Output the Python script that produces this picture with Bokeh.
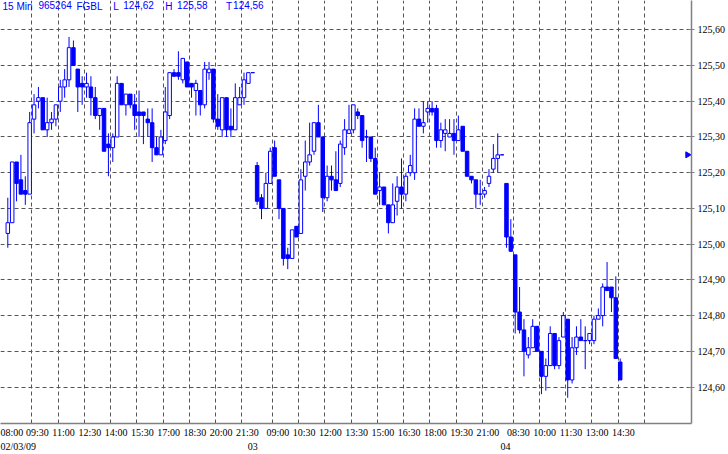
import math
from bokeh.plotting import figure
from bokeh.models import ColumnDataSource, FixedTicker, LinearAxis, Label, Range1d
from bokeh.embed import file_html
from bokeh.resources import INLINE

# ---------------- data (15-min FGBL bars, 02/03/09 - 04/03/09) ----------------
opens = [
    125.03, 125.06, 125.23, 125.18, 125.15, 125.14, 125.35, 125.40, 125.41, 125.32,
    125.34, 125.35, 125.40, 125.44, 125.46, 125.55, 125.49, 125.45, 125.44, 125.44,
    125.41, 125.36, 125.38, 125.28, 125.27, 125.30, 125.45, 125.39, 125.42, 125.39,
    125.37, 125.37, 125.35, 125.34, 125.27, 125.25, 125.29, 125.36, 125.48, 125.48,
    125.46, 125.51, 125.45, 125.43, 125.43, 125.39, 125.48, 125.49, 125.35, 125.32,
    125.41, 125.33, 125.32, 125.39, 125.41, 125.45, 125.48,
    125.22, 125.13, 125.10, 125.17, 125.27, 125.18, 125.10, 124.97, 124.96, 125.05,
    125.03, 125.19, 125.23, 125.26, 125.34, 125.30, 125.13, 125.19, 125.18, 125.17,
    125.27, 125.31, 125.32, 125.37, 125.36, 125.30, 125.30, 125.24, 125.15, 125.16,
    125.11, 125.06, 125.12, 125.16, 125.14, 125.20, 125.20, 125.35, 125.33, 125.37,
    125.38, 125.38, 125.29, 125.31, 125.30, 125.31, 125.29, 125.33, 125.26, 125.19,
    125.18, 125.14, 125.14, 125.17, 125.21, 125.24, 125.25,
    125.17, 125.02, 124.97, 124.81, 124.76, 124.69, 124.71, 124.77, 124.70, 124.63,
    124.66, 124.75, 124.66, 124.74, 124.79, 124.62, 124.71, 124.74, 124.73, 124.73,
    124.73, 124.79, 124.80, 124.88, 124.88, 124.85, 124.67,
]
highs = [
    125.13, 125.23, 125.23, 125.25, 125.19, 125.37, 125.42, 125.44, 125.41, 125.41,
    125.37, 125.39, 125.46, 125.49, 125.58, 125.57, 125.49, 125.47, 125.48, 125.47,
    125.44, 125.38, 125.38, 125.31, 125.31, 125.47, 125.45, 125.42, 125.42, 125.42,
    125.43, 125.37, 125.38, 125.38, 125.30, 125.32, 125.44, 125.48, 125.49, 125.54,
    125.52, 125.51, 125.45, 125.46, 125.43, 125.51, 125.51, 125.49, 125.42, 125.41,
    125.41, 125.38, 125.45, 125.44, 125.48, 125.48, 125.48,
    125.23, 125.14, 125.20, 125.27, 125.29, 125.18, 125.10, 124.99, 125.04, 125.05,
    125.21, 125.29, 125.34, 125.34, 125.39, 125.30, 125.22, 125.22, 125.26, 125.29,
    125.35, 125.39, 125.39, 125.38, 125.36, 125.32, 125.30, 125.27, 125.20, 125.16,
    125.11, 125.17, 125.19, 125.24, 125.20, 125.25, 125.38, 125.38, 125.40, 125.40,
    125.40, 125.39, 125.34, 125.35, 125.35, 125.35, 125.36, 125.33, 125.26, 125.19,
    125.18, 125.18, 125.16, 125.21, 125.28, 125.31, 125.25,
    125.17, 125.07, 124.97, 124.88, 124.79, 124.74, 124.79, 124.77, 124.70, 124.68,
    124.77, 124.75, 124.74, 124.81, 124.79, 124.74, 124.77, 124.79, 124.77, 124.75,
    124.80, 124.82, 124.89, 124.95, 124.88, 124.91, 124.68,
]
lows = [
    124.99, 125.06, 125.12, 125.14, 125.11, 125.14, 125.31, 125.38, 125.32, 125.30,
    125.32, 125.33, 125.37, 125.41, 125.44, 125.50, 125.37, 125.39, 125.41, 125.36,
    125.35, 125.32, 125.26, 125.19, 125.23, 125.30, 125.39, 125.36, 125.38, 125.32,
    125.30, 125.28, 125.30, 125.23, 125.25, 125.25, 125.28, 125.35, 125.47, 125.46,
    125.45, 125.44, 125.41, 125.36, 125.36, 125.38, 125.46, 125.34, 125.32, 125.30,
    125.30, 125.30, 125.32, 125.39, 125.39, 125.45, 125.48,
    125.11, 125.07, 125.10, 125.17, 125.19, 125.07, 124.94, 124.93, 124.96, 125.02,
    125.03, 125.15, 125.22, 125.25, 125.30, 125.09, 125.12, 125.15, 125.15, 125.16,
    125.25, 125.31, 125.31, 125.35, 125.27, 125.23, 125.23, 125.14, 125.11, 125.11,
    125.03, 125.06, 125.08, 125.10, 125.12, 125.19, 125.18, 125.33, 125.31, 125.34,
    125.36, 125.27, 125.27, 125.26, 125.30, 125.25, 125.29, 125.26, 125.19, 125.17,
    125.10, 125.11, 125.13, 125.16, 125.20, 125.20, 125.25,
    124.99, 124.98, 124.75, 124.75, 124.63, 124.68, 124.71, 124.70, 124.58, 124.59,
    124.66, 124.65, 124.65, 124.74, 124.57, 124.61, 124.69, 124.73, 124.65, 124.72,
    124.72, 124.79, 124.77, 124.87, 124.81, 124.68, 124.62,
]
closes = [
    125.06, 125.23, 125.17, 125.14, 125.14, 125.34, 125.39, 125.41, 125.32, 125.34,
    125.35, 125.39, 125.44, 125.46, 125.55, 125.50, 125.44, 125.44, 125.45, 125.41,
    125.36, 125.38, 125.26, 125.27, 125.30, 125.45, 125.39, 125.42, 125.39, 125.36,
    125.36, 125.36, 125.34, 125.27, 125.25, 125.30, 125.37, 125.48, 125.47, 125.47,
    125.52, 125.44, 125.44, 125.45, 125.39, 125.49, 125.49, 125.35, 125.33, 125.41,
    125.32, 125.32, 125.41, 125.41, 125.46, 125.48, 125.48,
    125.12, 125.10, 125.17, 125.26, 125.19, 125.10, 124.96, 124.96, 125.04, 125.02,
    125.18, 125.23, 125.25, 125.34, 125.30, 125.13, 125.19, 125.18, 125.15, 125.28,
    125.32, 125.32, 125.39, 125.36, 125.29, 125.30, 125.24, 125.14, 125.16, 125.11,
    125.06, 125.11, 125.16, 125.14, 125.19, 125.22, 125.35, 125.33, 125.34, 125.38,
    125.37, 125.29, 125.32, 125.32, 125.31, 125.29, 125.32, 125.26, 125.19, 125.18,
    125.14, 125.14, 125.15, 125.19, 125.24, 125.25, 125.25,
    125.02, 124.98, 124.81, 124.76, 124.70, 124.71, 124.77, 124.70, 124.63, 124.66,
    124.75, 124.66, 124.73, 124.80, 124.62, 124.71, 124.74, 124.73, 124.73, 124.75,
    124.79, 124.80, 124.88, 124.87, 124.85, 124.68, 124.62,
]

time_tick_bars = [0, 6, 12, 18, 24, 30, 36, 42, 48, 54,
                  61, 67, 73, 79, 85, 91, 97, 103, 109,
                  116, 122, 128, 134, 140]
time_tick_labels = ["08:00", "09:30", "11:00", "12:30", "14:00", "15:30", "17:00", "18:30", "20:00", "21:30",
                    "09:00", "10:30", "12:00", "13:30", "15:00", "16:30", "18:00", "19:30", "21:00",
                    "08:30", "10:00", "11:30", "13:00", "14:30"]
grid_bars = [6, 12, 18, 24, 30, 36, 42, 48, 54, 61, 67, 73, 79, 85, 91, 97, 103, 109,
             116, 122, 128, 134, 140, 146]
day_tick_bars = [2.1, 56.0, 113.8]
day_tick_labels = ["02/03/09", "03", "04"]
price_ticks = [124.6, 124.7, 124.8, 124.9, 125.0, 125.1, 125.2, 125.3, 125.4, 125.5, 125.6]
price_tick_labels = ["124,60", "124,70", "124,80", "124,90", "125,00", "125,10",
                     "125,20", "125,30", "125,40", "125,50", "125,60"]
prev_close = [125.25]
title_parts = ["15 Min", "965264", "FGBL", "L", "124,62", "H", "125,58", "T", "124,56"]

# ---------------- build ----------------
BLUE = "#0000FF"
n = len(opens)
xs = list(range(n))
tops = [max(o, c) for o, c in zip(opens, closes)]
bottoms = [min(o, c) for o, c in zip(opens, closes)]
fills = ["white" if c >= o else BLUE for o, c in zip(opens, closes)]
src = ColumnDataSource(dict(x=xs, top=tops, bottom=bottoms, high=highs, low=lows, fill=fills))

p = figure(width=728, height=454, output_backend="svg", toolbar_location=None,
           x_range=Range1d(-1.67, 156.3), y_range=Range1d(124.498, 125.682),
           y_axis_location="right", min_border_left=0, min_border_top=0,
           min_border_bottom=0, min_border_right=0)
p.outline_line_color = None
p.background_fill_color = "white"
p.border_fill_color = "white"

# grid
p.xgrid.ticker = FixedTicker(ticks=[g - 0.5 for g in grid_bars])
p.ygrid.ticker = FixedTicker(ticks=price_ticks)
for g in (p.xgrid[0], p.ygrid[0]):
    g.grid_line_color = "#555555"
    g.grid_line_dash = "4 3"
    g.grid_line_width = 1

# candles
p.segment(x0="x", y0="low", x1="x", y1="high", source=src, line_color=BLUE, line_width=1)
p.vbar(x="x", top="top", bottom="bottom", width=0.8, source=src,
       fill_color="fill", line_color=BLUE, line_width=1)

# previous close marker on right edge
p.scatter(x=[155.4], y=prev_close, marker="triangle", angle=-math.pi / 2,
          size=6, fill_color=BLUE, line_color=BLUE)

FONT = "Liberation Serif"
FS = "10px"

# bottom time axis
tpos = [0.6] + [b + 0.75 for b in time_tick_bars[1:]]
xa = p.xaxis[0]
xa.ticker = FixedTicker(ticks=tpos)
xa.major_label_overrides = {t: l for t, l in zip(tpos, time_tick_labels)}
xa.axis_line_color = "#808080"
xa.axis_line_width = 1.5
xa.major_tick_line_color = None
xa.minor_tick_line_color = None
xa.major_tick_out = 0
xa.major_tick_in = 0
xa.minor_tick_out = 0
xa.minor_tick_in = 0
xa.major_label_standoff = 3
xa.major_label_text_font = FONT
xa.major_label_text_font_size = FS
xa.major_label_text_color = "black"

# day axis
da = LinearAxis(ticker=FixedTicker(ticks=day_tick_bars),
                major_label_overrides={t: l for t, l in zip(day_tick_bars, day_tick_labels)},
                axis_line_color=None, major_tick_line_color=None, minor_tick_line_color=None,
                major_tick_out=0, major_tick_in=0, minor_tick_out=0, minor_tick_in=0,
                major_label_standoff=0, major_label_text_font=FONT,
                major_label_text_font_size=FS, major_label_text_color="black")
p.add_layout(da, "below")

# right price axis
ya = p.yaxis[0]
ya.ticker = FixedTicker(ticks=price_ticks)
ya.major_label_overrides = {t: l for t, l in zip(price_ticks, price_tick_labels)}
ya.axis_line_color = "#808080"
ya.axis_line_width = 1.5
ya.major_tick_line_color = "#808080"
ya.major_tick_in = 3
ya.major_tick_out = 3
ya.minor_tick_line_color = None
ya.minor_tick_out = 0
ya.minor_tick_in = 0
ya.major_label_standoff = 3
ya.major_label_text_font = FONT
ya.major_label_text_font_size = FS
ya.major_label_text_color = "black"

# header text (x in bar units)
title_x = [-1.2, 7.0, 15.7, 24.1, 26.4, 36.0, 38.7, 49.9, 51.5]
for tx, txt in zip(title_x, title_parts):
    p.add_layout(Label(x=tx, y=125.680, text=txt, text_baseline="top", text_align="left",
                       text_font="Liberation Sans", text_font_size="10px", text_color=BLUE))

open("out.html", "w").write(file_html(p, INLINE))
